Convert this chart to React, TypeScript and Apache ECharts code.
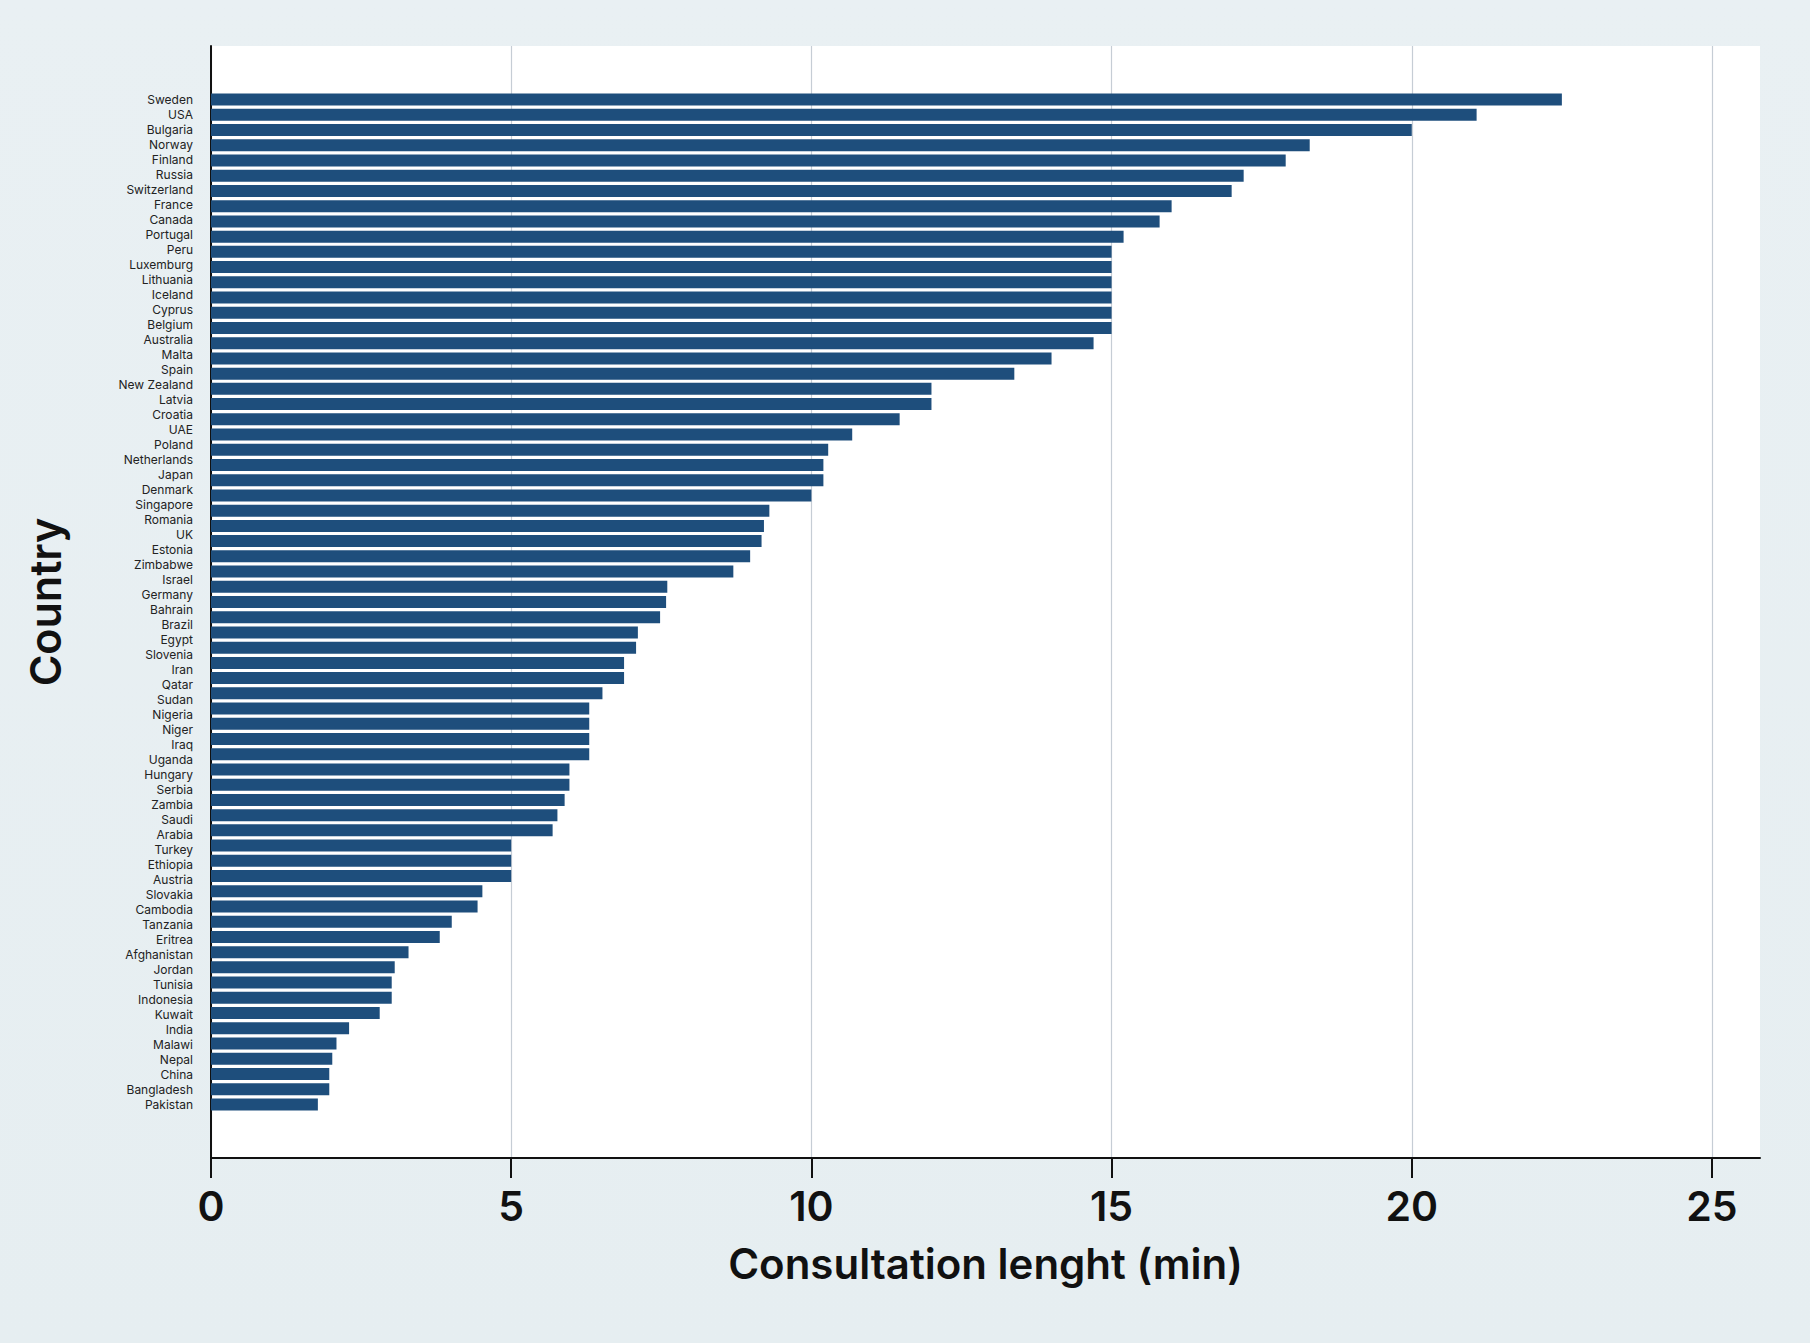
import {useEffect, useRef} from 'react';
import * as echarts from 'echarts';

// row labels exactly as printed on the y axis (Saudi / Arabia split over two rows)
const rowLabels = [
    'Sweden', 'USA', 'Bulgaria', 'Norway', 'Finland', 'Russia', 'Switzerland', 'France', 'Canada',
    'Portugal', 'Peru', 'Luxemburg', 'Lithuania', 'Iceland', 'Cyprus', 'Belgium', 'Australia', 'Malta',
    'Spain', 'New Zealand', 'Latvia', 'Croatia', 'UAE', 'Poland', 'Netherlands', 'Japan', 'Denmark',
    'Singapore', 'Romania', 'UK', 'Estonia', 'Zimbabwe', 'Israel', 'Germany', 'Bahrain', 'Brazil',
    'Egypt', 'Slovenia', 'Iran', 'Qatar', 'Sudan', 'Nigeria', 'Niger', 'Iraq', 'Uganda', 'Hungary',
    'Serbia', 'Zambia', 'Saudi', 'Arabia', 'Turkey', 'Ethiopia', 'Austria', 'Slovakia', 'Cambodia',
    'Tanzania', 'Eritrea', 'Afghanistan', 'Jordan', 'Tunisia', 'Indonesia', 'Kuwait', 'India',
    'Malawi', 'Nepal', 'China', 'Bangladesh', 'Pakistan'
];

// one bar per country
const countries = [
    'Sweden', 'USA', 'Bulgaria', 'Norway', 'Finland', 'Russia', 'Switzerland', 'France', 'Canada',
    'Portugal', 'Peru', 'Luxemburg', 'Lithuania', 'Iceland', 'Cyprus', 'Belgium', 'Australia', 'Malta',
    'Spain', 'New Zealand', 'Latvia', 'Croatia', 'UAE', 'Poland', 'Netherlands', 'Japan', 'Denmark',
    'Singapore', 'Romania', 'UK', 'Estonia', 'Zimbabwe', 'Israel', 'Germany', 'Bahrain', 'Brazil',
    'Egypt', 'Slovenia', 'Iran', 'Qatar', 'Sudan', 'Nigeria', 'Niger', 'Iraq', 'Uganda', 'Hungary',
    'Serbia', 'Zambia', 'Saudi Arabia', 'Turkey', 'Ethiopia', 'Austria', 'Slovakia', 'Cambodia',
    'Tanzania', 'Eritrea', 'Afghanistan', 'Jordan', 'Tunisia', 'Indonesia', 'Kuwait', 'India',
    'Malawi', 'Nepal', 'China', 'Bangladesh', 'Pakistan'
];

const minutes = [
    22.5, 21.08, 20.0, 18.3, 17.9, 17.2, 17.0, 16.0, 15.8,
    15.2, 15.0, 15.0, 15.0, 15.0, 15.0, 15.0, 14.7, 14.0,
    13.38, 12.0, 12.0, 11.47, 10.68, 10.28, 10.2, 10.2, 10.0,
    9.3, 9.21, 9.17, 8.98, 8.7, 7.6, 7.58, 7.48, 7.11,
    7.08, 6.88, 6.88, 6.52, 6.3, 6.3, 6.3, 6.3, 5.97, 5.97,
    5.89, 5.77, 5.69, 5.0, 5.0, 5.0, 4.52, 4.44,
    4.01, 3.81, 3.29, 3.06, 3.01, 3.01, 2.81, 2.3,
    2.09, 2.02, 1.97, 1.97, 1.78
];

const xTicks = [0, 5, 10, 15, 20, 25];

const FONT = 'Inter, "Noto Sans", sans-serif';

export default function App() {
    const ref = useRef<HTMLDivElement | null>(null);

    useEffect(() => {
        document.body.style.margin = '0';
        if (!ref.current) return;
        const chart = echarts.init(ref.current, null, {renderer: 'svg'});
        chart.setOption({
            animation: false,
            backgroundColor: 'transparent',
            grid: [
                {left: 211, right: 50, top: 46, height: 1112, show: true, backgroundColor: '#ffffff', borderWidth: 0},
                {left: 211, right: 50, top: 92, height: 1020}
            ],
            xAxis: [
                {
                    type: 'value', gridIndex: 0, min: 0, max: 25.8, interval: 5,
                    name: 'Consultation lenght (min)', nameLocation: 'middle', nameGap: 84,
                    nameTextStyle: {fontFamily: FONT, fontSize: 42, fontWeight: 600, color: '#111'},
                    axisLine: {show: true, lineStyle: {color: '#111', width: 2}},
                    axisTick: {show: true, length: 20, lineStyle: {color: '#111', width: 2}, customValues: xTicks},
                    axisLabel: {fontFamily: FONT, fontSize: 41, fontWeight: 600, color: '#111', margin: 27, customValues: xTicks},
                    splitLine: {show: true, lineStyle: {color: '#c6cdd5', width: 1.2}}
                },
                {type: 'value', gridIndex: 1, min: 0, max: 25.8, show: false}
            ],
            yAxis: [
                {
                    type: 'value', gridIndex: 0, min: 0, max: 1,
                    name: 'Country', nameLocation: 'middle', nameRotate: 90, nameGap: 145,
                    nameTextStyle: {fontFamily: FONT, fontSize: 43, fontWeight: 600, color: '#111'},
                    axisLine: {show: true, lineStyle: {color: '#111', width: 2}},
                    axisTick: {show: false}, axisLabel: {show: false}, splitLine: {show: false}
                },
                {
                    type: 'category', gridIndex: 1, data: rowLabels, inverse: true,
                    axisLine: {show: false}, axisTick: {show: false},
                    axisLabel: {interval: 0, fontFamily: FONT, fontSize: 12, color: '#222', margin: 18}
                },
                {type: 'category', gridIndex: 1, data: countries, inverse: true, position: 'right', show: false}
            ],
            series: [
                {
                    type: 'bar', xAxisIndex: 1, yAxisIndex: 2, data: minutes, barWidth: 12,
                    itemStyle: {color: '#1e4e7c'}
                }
            ]
        });
        return () => chart.dispose();
    }, []);

    return (
        <div style={{width: 1810, height: 1343, background: 'linear-gradient(180deg, #e9f0f3 0%, #e6eef1 100%)'}}>
            <div ref={ref} style={{width: 1810, height: 1343}}/>
        </div>
    );
}
